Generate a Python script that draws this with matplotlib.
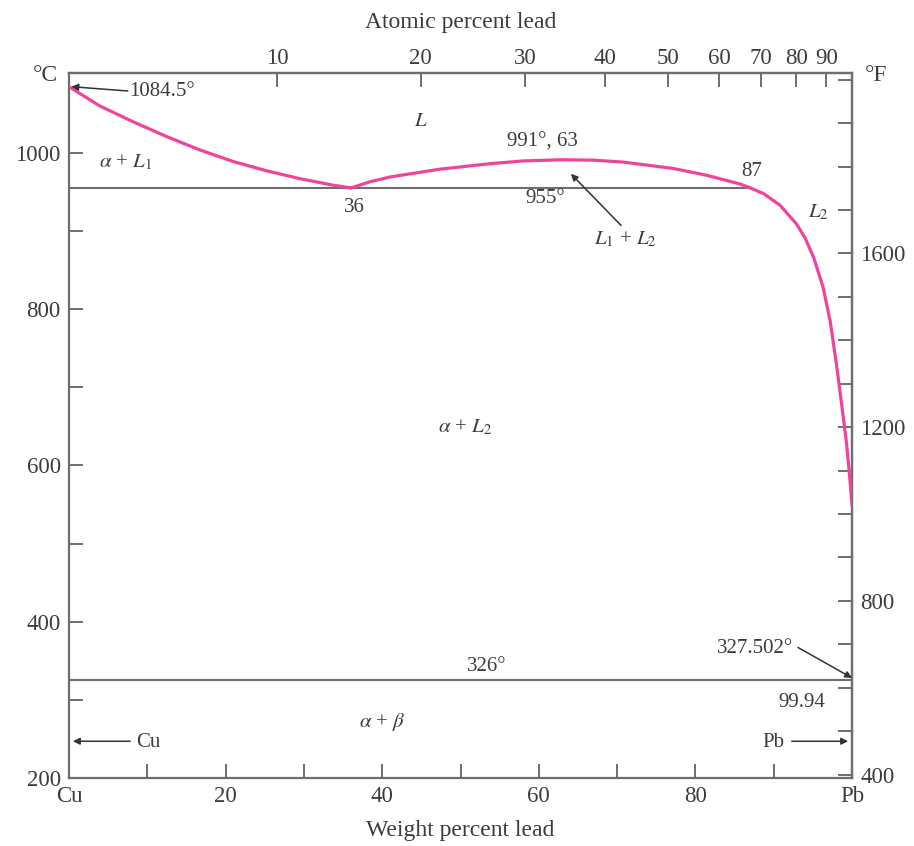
import numpy as np
import matplotlib
matplotlib.use('Agg')
import matplotlib.pyplot as plt

plt.rcParams['font.family'] = ['Liberation Serif', 'DejaVu Serif']
plt.rcParams['mathtext.fontset'] = 'stix'

# Liquidus data (weight percent lead, degrees C)
liq1_wt = [0, 3.9, 8.1, 12.4, 16.6, 20.9, 25.2, 29.4, 33.7, 36]
liq1_T = [1084.5, 1060, 1040, 1021, 1004, 989, 977, 967, 958.5, 955]

dome_wt = [36, 38.5, 41, 47.4, 53.8, 58, 63, 67, 70.8, 77.1, 81.5, 85.7, 87]
dome_T = [955, 963, 969, 979, 986, 989.5, 991, 990.5, 988, 980, 971, 960, 955]

liq2_wt = [87, 88.7, 90.8, 92.9, 94.0, 95.1, 96.3, 97.2, 98.0, 98.7, 99.3, 99.7, 100]
liq2_T = [955, 947.7, 932.8, 909, 891, 866, 828, 785, 730, 676, 628, 585, 549]

monotectic_T = 955
monotectic_wt = [0, 87]
eutectic_T = 326
eutectic_wt = [0, 100]

wt_ticks = [0, 20, 40, 60, 80, 100]
wt_labels = ['Cu', '20', '40', '60', '80', 'Pb']
at_ticks = [10, 20, 30, 40, 50, 60, 70, 80, 90]
c_ticks = [200, 400, 600, 800, 1000]
f_ticks = [400, 800, 1200, 1600]

PINK = '#f0449b'
GREY = '#6e6e6e'
TXT = '#3c3c3c'
M_PB, M_CU = 207.2, 63.546


def wt2at(w):
    w = np.asarray(w, dtype=float)
    with np.errstate(divide='ignore', invalid='ignore'):
        return 100 * (w / M_PB) / (w / M_PB + (100 - w) / M_CU)


def at2wt(a):
    a = np.asarray(a, dtype=float)
    with np.errstate(divide='ignore', invalid='ignore'):
        return 100 * (a * M_PB) / (a * M_PB + (100 - a) * M_CU)


def c2f(c):
    return np.asarray(c) * 9 / 5 + 32


def f2c(f):
    return (np.asarray(f) - 32) * 5 / 9


fig = plt.figure(figsize=(9.14, 8.46), dpi=100)
ax = fig.add_axes([0.0755, 0.0804, 0.8567, 0.8333])

for xs, ys in [(liq1_wt, liq1_T), (dome_wt, dome_T), (liq2_wt, liq2_T)]:
    ax.plot(xs, ys, color=PINK, lw=2.3, solid_capstyle='round',
            solid_joinstyle='round', zorder=3)
ax.plot(monotectic_wt, [monotectic_T] * 2, color=GREY, lw=1.5, zorder=2)
ax.plot(eutectic_wt, [eutectic_T] * 2, color=GREY, lw=1.5, zorder=2)

ax.set_xlim(0, 100)
ax.set_ylim(200, 1102)

for s in ax.spines.values():
    s.set_color(GREY)
    s.set_linewidth(1.6)

tick_kw = dict(direction='in', length=10, width=1.4, color=GREY,
               labelcolor=TXT, labelsize=16.5)
ax.set_xticks(wt_ticks)
ax.set_xticklabels(wt_labels)
ax.set_xticks(np.arange(10, 100, 20), minor=True)
ax.set_yticks(c_ticks)
ax.set_yticks([300, 500, 700, 900], minor=True)
ax.tick_params(axis='both', which='both', pad=6, **tick_kw)
ax.set_xlabel('Weight percent lead', fontsize=17, color=TXT, labelpad=9)

top = ax.secondary_xaxis('top', functions=(wt2at, at2wt))
top.set_xticks(at_ticks)
top.tick_params(axis='x', which='both', pad=3, **tick_kw)
top.set_xlabel('Atomic percent lead', fontsize=17, color=TXT, labelpad=14)
top.spines['top'].set_color(GREY)
top.spines['top'].set_linewidth(1.6)

right = ax.secondary_yaxis('right', functions=(c2f, f2c))
right.set_yticks(f_ticks)
right.set_yticks([f for f in range(500, 2100, 100) if f not in f_ticks], minor=True)
right.tick_params(axis='y', which='both', pad=6, **tick_kw)
right.spines['right'].set_color(GREY)
right.spines['right'].set_linewidth(1.6)

ax.text(-0.03, 0.997, '°C', transform=ax.transAxes, ha='center', va='center',
        fontsize=17, color=TXT)
ax.text(1.031, 0.997, '°F', transform=ax.transAxes, ha='center', va='center',
        fontsize=17, color=TXT)

arrow_kw = dict(arrowstyle='-|>', color='#333333', lw=1.1, mutation_scale=10,
                shrinkA=0, shrinkB=0)
lab = dict(fontsize=15, color=TXT)

ax.annotate('', xy=(0.3, 1084.5), xytext=(7.5, 1079), arrowprops=arrow_kw)
ax.text(7.7, 1078, '1084.5°', ha='left', va='center', **lab)
ax.text(45, 1040, '$L$', ha='center', va='center', **lab)
ax.text(60.5, 1014, '991°, 63', ha='center', va='center', **lab)
ax.text(7.2, 987, r'$\alpha$ + $L_1$', ha='center', va='center', **lab)
ax.text(36.5, 930, '36', ha='center', va='center', **lab)
ax.text(60.8, 942, '955°', ha='center', va='center', **lab)
ax.text(87.2, 976, '87', ha='center', va='center', **lab)
ax.text(95.7, 923, '$L_2$', ha='center', va='center', **lab)
ax.annotate('', xy=(64.1, 973), xytext=(70.5, 907), arrowprops=arrow_kw)
ax.text(71, 889, '$L_1$ + $L_2$', ha='center', va='center', **lab)
ax.text(50.6, 648, r'$\alpha$ + $L_2$', ha='center', va='center', **lab)
ax.text(53.4, 343, '326°', ha='center', va='center', **lab)
ax.text(92.5, 366, '327.502°', ha='right', va='center', **lab)
ax.annotate('', xy=(100, 328), xytext=(93.1, 367), arrowprops=arrow_kw)
ax.text(93.6, 297, '99.94', ha='center', va='center', **lab)
ax.text(40, 272, r'$\alpha$ + $\beta$', ha='center', va='center', **lab)
ax.annotate('', xy=(0.5, 247), xytext=(7.8, 247), arrowprops=arrow_kw)
ax.text(8.6, 246, 'Cu', ha='left', va='center', **lab)
ax.annotate('', xy=(99.5, 247), xytext=(92.3, 247), arrowprops=arrow_kw)
ax.text(91.3, 246, 'Pb', ha='right', va='center', **lab)

fig.savefig('out.png', dpi=100)
